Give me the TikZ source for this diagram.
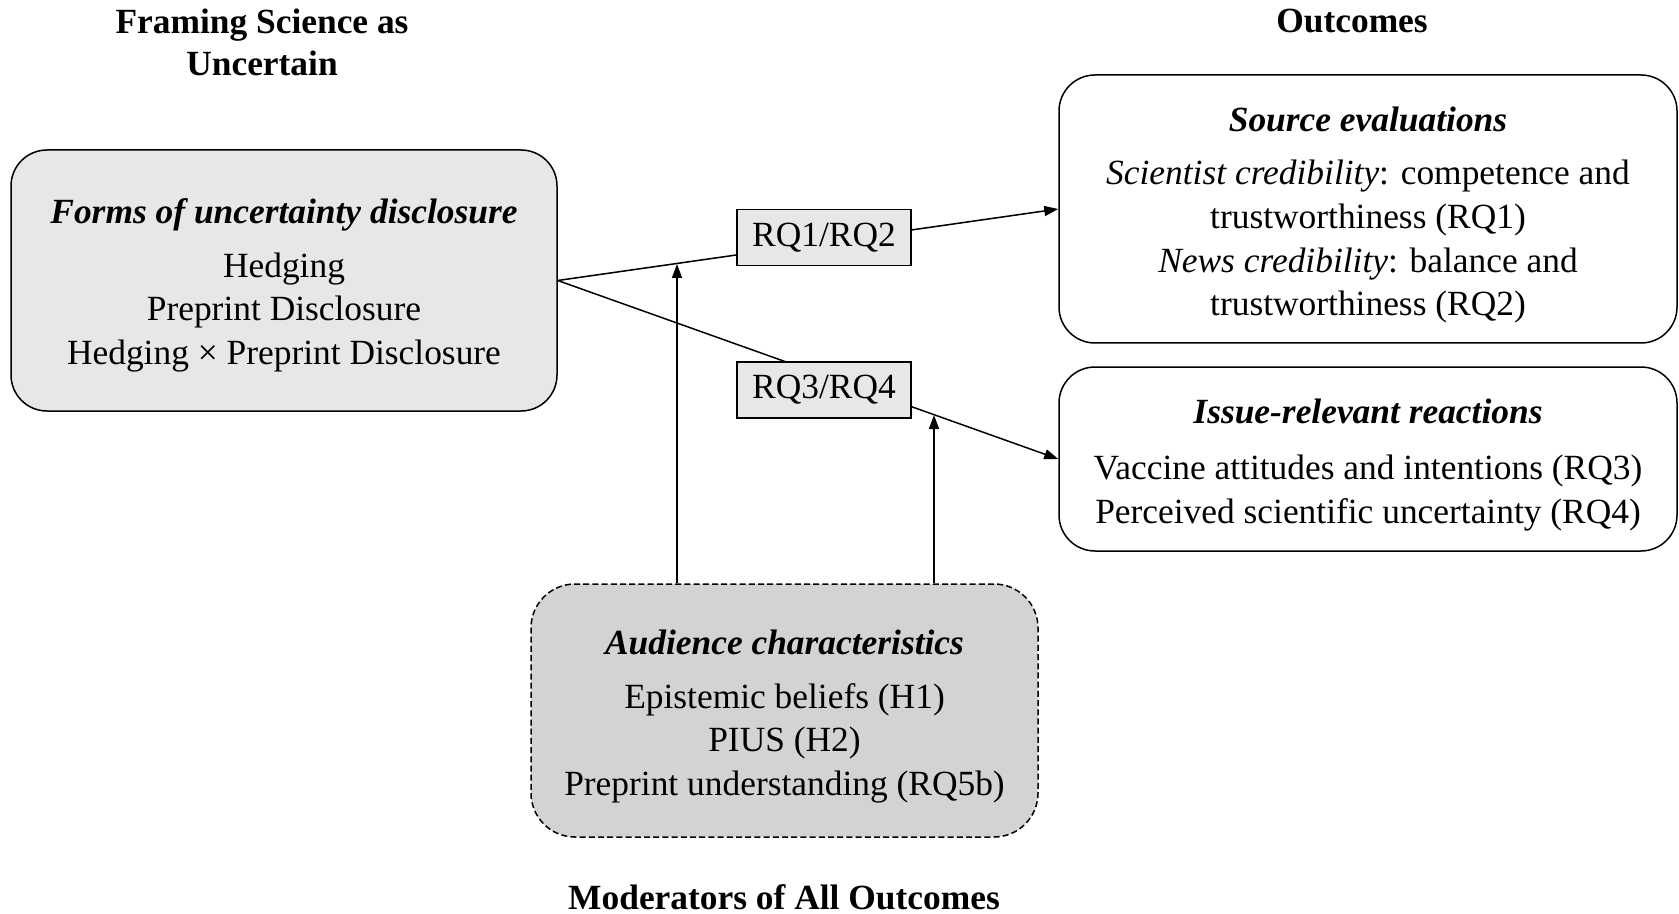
\documentclass[tikz,border=0pt]{standalone}
\usepackage{fontspec}
\setmainfont{Liberation Serif}
\usetikzlibrary{arrows.meta}
\definecolor{boxgray}{RGB}{231,231,231}
\definecolor{audgray}{RGB}{211,211,211}
\begin{document}
\begin{tikzpicture}[x=0.5pt,y=-0.5pt,
  every node/.style={font=\fontsize{17.7}{21.8}\selectfont, align=center, inner sep=0pt},
  roundbox/.style={draw, line width=0.75pt, rounded corners=18pt},
  rqbox/.style={draw, line width=0.75pt, fill=boxgray, minimum width=87pt, minimum height=28pt},
  heading/.style={font=\fontsize{17.7}{21}\selectfont\bfseries},
  conn/.style={line width=0.75pt},
  arr/.style={conn, -{Triangle[length=7pt,width=5pt]}}
]
\useasboundingbox (0,0) rectangle (1679,914);

\node[heading] (t1) at (262,42) {Framing Science as\\Uncertain};
\node[heading] (t2) at (1352,21) {Outcomes};
\node[heading] (t3) at (784,897) {Moderators of All Outcomes};

\node[roundbox, fill=boxgray, minimum width=273pt, minimum height=130.5pt] (forms) at (284,280.5) {};
\node (formsT) at (284,285.5)
 {\textbf{\textit{Forms of uncertainty disclosure}}\\[5pt]Hedging\\Preprint Disclosure\\Hedging × Preprint Disclosure};

\node[roundbox, fill=white, minimum width=309pt, minimum height=134pt] (src) at (1368,209) {};
\node (srcT) at (1368,215)
 {\textbf{\textit{Source evaluations}}\\[5pt]\textit{Scientist credibility}: competence and\\trustworthiness (RQ1)\\\textit{News credibility}: balance and\\trustworthiness (RQ2)};

\node[roundbox, fill=white, minimum width=309pt, minimum height=92pt] (issue) at (1368,459) {};
\node (issueT) at (1368,465)
 {\textbf{\textit{Issue-relevant reactions}}\\[6pt]Vaccine attitudes and intentions (RQ3)\\Perceived scientific uncertainty (RQ4)};

\node[roundbox, fill=audgray, dash pattern=on 3pt off 1.6pt, rounded corners=22pt, minimum width=253.5pt, minimum height=126.5pt] (aud) at (784.5,710.5) {};
\node (audT) at (784.5,716.5)
 {\textbf{\textit{Audience characteristics}}\\[5pt]Epistemic beliefs (H1)\\PIUS (H2)\\Preprint understanding (RQ5b)};

\draw[arr] (forms.east) -- (src.west);
\draw[arr] (forms.east) -- (issue.west);

\node[rqbox] (rq12) at (824,237.5) {RQ1/RQ2};
\node[rqbox] (rq34) at (824,390) {RQ3/RQ4};

\coordinate (m1) at (677,264);
\coordinate (m2) at (934,415);
\draw[arr] (aud.north -| m1) -- (m1);
\draw[arr] (aud.north -| m2) -- (m2);
\end{tikzpicture}
\end{document}
